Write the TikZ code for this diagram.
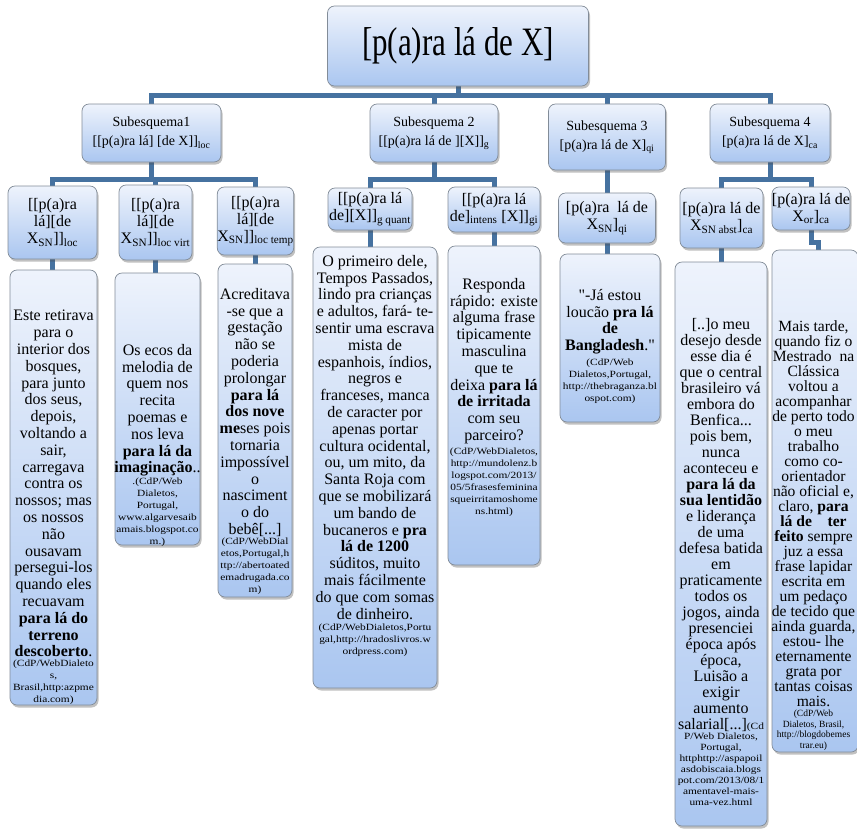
\documentclass[tikz,border=0pt]{standalone}
\usepackage{fontspec}
\setmainfont{Liberation Serif}
\newfontfamily\citefam{Liberation Serif}[FakeStretch=1.2]
\usepackage{graphicx}
\usetikzlibrary{shadows,backgrounds}
\definecolor{conncol}{RGB}{70,114,160}
\definecolor{boxtop}{RGB}{238,243,252}
\definecolor{boxbot}{RGB}{170,198,240}
\definecolor{boxline}{RGB}{130,140,152}
\newcommand{\leaffont}{\fontsize{16}{16.8}\selectfont}
\newcommand{\citefont}{\citefam\fontsize{9.5}{12}\selectfont}
\newcommand{\lvlfont}{\fontsize{16}{17}\selectfont}
\newcommand{\subfont}{\fontsize{14}{19}\selectfont}
\newcommand{\sbs}[1]{\textsubscript{#1}}
\begin{document}
\begin{tikzpicture}[x=1pt,y=-1pt,
  box/.style={draw=boxline, line width=0.7pt, rounded corners=7pt,
    top color=boxtop, bottom color=boxbot, inner sep=0pt, align=center,
    drop shadow={shadow xshift=1.5pt, shadow yshift=-2.5pt, opacity=0.35, fill=black!70}},
  subbox/.style={box, font=\subfont},
  lvlbox/.style={box, font=\lvlfont},
  conn/.style={draw=conncol, line width=5pt},
  leaftext/.style={align=center, font=\leaffont, inner sep=0pt, anchor=north},
  citetext/.style={align=center, font=\citefont, inner sep=0pt, anchor=north}]
\useasboundingbox (0,0) rectangle (857,828);

% root
\node[box, minimum width=261pt, minimum height=80pt, font=\fontsize{31}{31}\selectfont] (root) at (458,46) {\scalebox{1}[1.3]{[p(a)ra lá de X]}};

% subschemas
\node[subbox, minimum width=139pt, minimum height=58pt] (s1) at (151.5,133) {Subesquema1\\{}[[p(a)ra lá] [de X]]\sbs{loc}};
\node[subbox, minimum width=128pt, minimum height=58pt] (s2) at (434,133) {Subesquema 2\\{}[[p(a)ra lá de ][X]]\sbs{g}};
\node[subbox, minimum width=117pt, minimum height=66pt] (s3) at (607,137) {Subesquema 3\\{}[p(a)ra lá de X]\sbs{qi}};
\node[subbox, minimum width=120pt, minimum height=58pt] (s4) at (770,133) {Subesquema 4\\{}[p(a)ra lá de X]\sbs{ca}};

% level 3
\node[lvlbox, minimum width=89pt, minimum height=73pt] (l1) at (52.5,222.5) {[[p(a)ra\\lá][de\\X\sbs{SN}]]\sbs{loc}};
\node[lvlbox, minimum width=73pt, minimum height=75pt] (l2) at (155.5,222.5) {[[p(a)ra\\lá][de\\X\sbs{SN}]]\sbs{loc virt}};
\node[lvlbox, minimum width=75pt, minimum height=68pt] (l3) at (255.5,221) {[[p(a)ra\\lá][de\\X\sbs{SN}]]\sbs{loc temp}};
\node[lvlbox, minimum width=84pt, minimum height=42pt] (l4) at (370,209) {[[p(a)ra lá\\de][X]]\sbs{g quant}};
\node[lvlbox, minimum width=92pt, minimum height=45pt] (l5) at (494,209.5) {[[p(a)ra lá\\de]\sbs{intens} [X]]\sbs{gi}};
\node[lvlbox, minimum width=97pt, minimum height=50pt] (l6) at (607,218) {[p(a)ra\ \ lá de\\X\sbs{SN}]\sbs{qi}};
\node[lvlbox, minimum width=83pt, minimum height=60pt] (l7) at (721.5,218) {[p(a)ra lá de\\X\sbs{SN abst}]\sbs{ca}};
\node[lvlbox, minimum width=78pt, minimum height=43pt] (l8) at (811,208.5) {[p(a)ra lá de\\X\sbs{or}]\sbs{ca}};

% leaf boxes
\node[box, minimum width=87pt, minimum height=435pt] (c1) at (53.5,487.5) {};
\node[box, minimum width=85pt, minimum height=272pt] (c2) at (157.5,409) {};
\node[box, minimum width=74pt, minimum height=333pt] (c3) at (255,430.5) {};
\node[box, minimum width=124pt, minimum height=441pt] (c4) at (375,467.5) {};
\node[box, minimum width=92pt, minimum height=319pt] (c5) at (494,405.5) {};
\node[box, minimum width=100pt, minimum height=168pt] (c6) at (610,338) {};
\node[box, minimum width=92pt, minimum height=564pt] (c7) at (721,544) {};
\node[box, minimum width=86pt, minimum height=502pt] (c8) at (815,501) {};

% leaf texts
\node[leaftext] (t1) at (53.5,310) {Este retirava\\para o\\interior dos\\bosques,\\para junto\\dos seus,\\depois,\\voltando a\\sair,\\carregava\\contra os\\nossos; mas\\os nossos\\não\\ousavam\\persegui-los\\quando eles\\recuavam\\\textbf{para lá do}\\\textbf{terreno}\\\textbf{descoberto}.};
\node[citetext] (k1) at ([yshift=-2pt]t1.south) {(CdP/WebDialeto\\s,\\Brasil,http:azpme\\dia.com)};

\node[leaftext] (t2) at (157.5,344) {Os ecos da\\melodia de\\quem nos\\recita\\poemas e\\nos leva\\\textbf{para lá da}\\\textbf{imaginação}..};
\node[citetext] (k2) at ([yshift=-1pt]t2.south) {.(CdP/Web\\Dialetos,\\Portugal,\\www.algarvesaib\\amais.blogspot.co\\m.)};

\node[leaftext] (t3) at (255,288) {Acreditava\\-se que a\\gestação\\não se\\poderia\\prolongar\\\textbf{para lá}\\\textbf{dos nove}\\\textbf{me}ses pois\\tornaria\\impossível\\o\\nasciment\\o do\\bebê[...]};
\node[citetext] (k3) at ([yshift=-1pt]t3.south) {(CdP/WebDial\\etos,Portugal,h\\ttp://abertoated\\emadrugada.co\\m)};

\node[leaftext] (t4) at (375,255) {O primeiro dele,\\Tempos Passados,\\lindo pra crianças\\e adultos, fará- te-\\sentir uma escrava\\mista de\\espanhois, índios,\\negros e\\franceses, manca\\de caracter por\\apenas portar\\cultura ocidental,\\ou, um mito, da\\Santa Roja com\\que se mobilizará\\um bando de\\bucaneros e \textbf{pra}\\\textbf{lá de 1200}\\súditos, muito\\mais fácilmente\\do que com somas\\de dinheiro.};
\node[citetext] (k4) at ([yshift=-4pt]t4.south) {(CdP/WebDialetos,Portu\\gal,http://hradoslivros.w\\ordpress.com)};

\node[leaftext] (t5) at (494,278) {Responda\\rápido: existe\\alguma frase\\tipicamente\\masculina\\que te\\deixa \textbf{para lá}\\\textbf{de irritada}\\com seu\\parceiro?};
\node[citetext] (k5) at ([yshift=-4pt]t5.south) {(CdP/WebDialetos,\\http://mundolenz.b\\logspot.com/2013/\\05/5frasesfeminina\\squeirritamoshome\\ns.html)};

\node[leaftext] (t6) at (610,289) {\textquotedbl-Já estou\\loucão \textbf{pra lá}\\\textbf{de}\\\textbf{Bangladesh}.\textquotedbl};
\node[citetext] (k6) at ([yshift=-4pt]t6.south) {(CdP/Web\\Dialetos,Portugal,\\http://thebraganza.bl\\ospot.com)};

\node[leaftext, font=\fontsize{16}{16}\selectfont] (t7) at (721,318) {[..]o meu\\desejo desde\\esse dia é\\que o central\\brasileiro vá\\embora do\\Benfica...\\pois bem,\\nunca\\aconteceu e\\\textbf{para lá da}\\\textbf{sua lentidão}\\e liderança\\de uma\\defesa batida\\em\\praticamente\\todos os\\jogos, ainda\\presenciei\\época após\\época,\\Luisão a\\exigir\\aumento\\salarial[...]{\citefont(Cd}};
\node[citetext, font=\citefam\fontsize{9.5}{11}\selectfont] (k7) at ([yshift=-1pt]t7.south) {P/Web Dialetos,\\Portugal,\\httphttp://aspapoil\\asdobiscaia.blogs\\pot.com/2013/08/1\\amentavel-mais-\\uma-vez.html};

\node[leaftext, font=\fontsize{15.6}{15}\selectfont] (t8) at (813.5,320) {Mais tarde,\\quando fiz o\\Mestrado\ \ na\\Clássica\\voltou a\\acompanhar\\de perto todo\\o meu\\trabalho\\como co-\\orientador\\não oficial e,\\claro, \textbf{para}\\\textbf{lá de\hspace{1em}ter}\\\textbf{feito} sempre\\juz a essa\\frase lapidar\\escrita em\\um pedaço\\de tecido que\\ainda guarda,\\estou- lhe\\eternamente\\grata por\\tantas coisas\\mais.};
\node[citetext, font=\fontsize{9.5}{10.8}\selectfont] (k8) at ([yshift=-3pt]t8.south) {(CdP/Web\\Dialetos, Brasil,\\http://blogdobemes\\trar.eu)};

% connectors
\begin{scope}[on background layer]
\coordinate (mb) at (0,95);
\coordinate (bb) at (0,179);
\foreach \s in {s1,s2,s3,s4} \draw[conn] (root.south) -- (root.south |- mb) -| (\s.north);
\foreach \l in {l1,l2,l3} \draw[conn] (s1.south) -- (s1.south |- bb) -| (\l.north);
\foreach \l in {l4,l5} \draw[conn] (s2.south) -- (s2.south |- bb) -| (\l.north);
\draw[conn] (s3.south) -- (l6.north);
\foreach \l in {l7,l8} \draw[conn] (s4.south) -- (s4.south |- bb) -| (\l.north);
\draw[conn] (l1.south) -- (l1.south |- c1.north);
\draw[conn] (l2.south) -- (l2.south |- c2.north);
\draw[conn] (l3.south) -- (l3.south |- c3.north);
\draw[conn] (l4.south) -- (l4.south |- c4.north);
\draw[conn] (l5.south) -- (l5.south |- c5.north);
\draw[conn] (l6.south) -- (l6.south |- c6.north);
\draw[conn] (l7.south) -- (l7.south |- c7.north);
\coordinate (j8) at (818,242);
\draw[conn] (l8.south) |- (j8) -- (j8 |- c8.north);
\end{scope}
\end{tikzpicture}
\end{document}
